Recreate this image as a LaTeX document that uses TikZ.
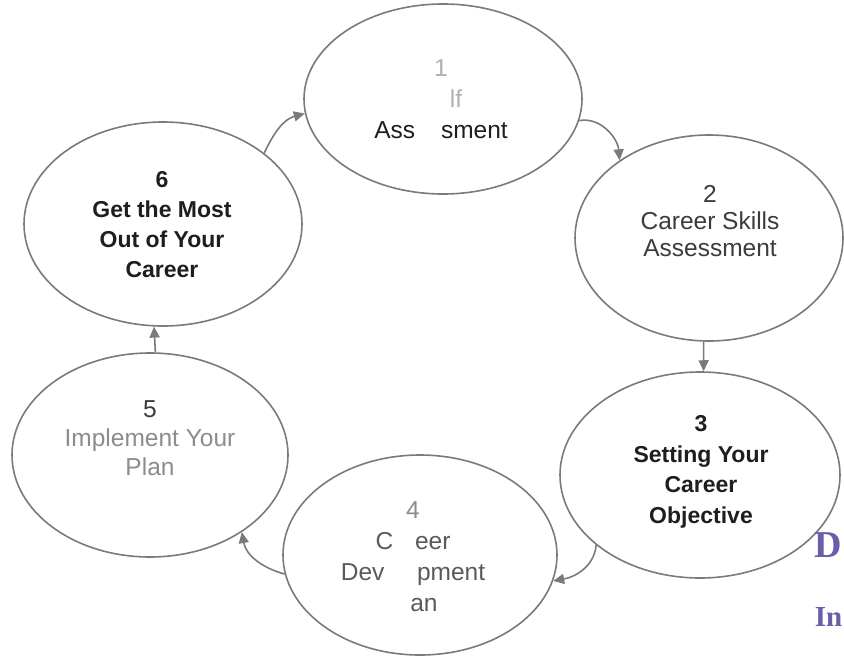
\documentclass[tikz,border=0pt]{standalone}
\usepackage{fontspec}
\setmainfont{Liberation Serif}
\setsansfont{Liberation Sans}
\usetikzlibrary{arrows.meta, shapes.geometric}
\definecolor{cline}{HTML}{7A7A7A}
\definecolor{cink}{HTML}{1E1E1E}
\definecolor{cdark}{HTML}{3C3C3C}
\definecolor{cmid}{HTML}{5A5A5A}
\definecolor{clight}{HTML}{8C8C8C}
\definecolor{cfaint}{HTML}{B0B0B0}
\definecolor{cpurple}{HTML}{6C5DAA}
\tikzset{
  every picture/.style={font=\sffamily, line width=0.8pt},
  phase/.style={ellipse, draw=cline, line width=0.8pt, inner sep=0pt},
  phasetext/.style={align=center, text=cdark, font=\sffamily\fontsize{12.25}{#1}\selectfont},
  phasetext/.default=15.5pt,
  boldtext/.style={align=center, text=cink, font=\sffamily\bfseries\fontsize{11.5}{#1}\selectfont},
  boldtext/.default=15.3pt,
  arrow/.style={-{Triangle[length=5.5pt, width=5pt]}, draw=cline, line width=0.8pt},
  pageedge/.style={text=cpurple, anchor=west, inner sep=0pt, font=\rmfamily\bfseries},
}

\begin{document}
\begin{tikzpicture}[x=0.5pt, y=0.5pt]
  \fill[white] (0,0) rectangle (844,661);
  \useasboundingbox (0,0) rectangle (844,661);
  % the six stages
  \node[phase, minimum width=139pt, minimum height=95pt] (e1) at (443,562) {};
  \node[phase, minimum width=134pt, minimum height=103pt] (e2) at (709,423) {};
  \node[phase, minimum width=140pt, minimum height=103pt] (e3) at (700,186) {};
  \node[phase, minimum width=137pt, minimum height=100pt] (e4) at (420,106) {};
  \node[phase, minimum width=138pt, minimum height=102pt] (e5) at (150,206) {};
  \node[phase, minimum width=139pt, minimum height=102pt] (e6) at (163,437) {};
  % texts
  \node[phasetext, text=cink] (t1) at (441,562) {\textcolor{cfaint}{1}\\ \textcolor{cfaint}{\phantom{Se}lf}\\ Ass\phantom{es}sment};
  \node[phasetext=13.5pt] (t2) at (710,440) {2\\ Career Skills\\ Assessment};
  \node[boldtext] (t3) at (701,189) {3\\ Setting Your\\ Career\\ Objective};
  \node[phasetext, text=cmid] (t4) at (413,104) {\textcolor{clight}{4}\\ C\phantom{ar}eer\\ Dev\phantom{elo}pment\\ \phantom{Pl}an};
  \node[phasetext=14.5pt, text=clight] (t5) at (150,223) {\textcolor{cdark}{5}\\ Implement Your\\ Plan};
  \node[boldtext=15pt] (t6) at (162,436) {6\\ Get the Most\\ Out of Your\\ Career};
  % cycle
  \draw[arrow] (e6.35) to[out=65, in=195] (e1.186);
  \draw[arrow] (e1.351) to[out=10, in=95] (e2.139);
  \draw[arrow] (e2.-93) -- (e3.88);
  \draw[arrow] (e3.214) to[out=-95, in=10] (e4.-11);
  \draw[arrow] (e4.188) to[out=165, in=-80] (e5.-40);
  \draw[arrow] (e5.87) -- (e6.-95);
  % next page edge
  \node[pageedge, font=\rmfamily\bfseries\fontsize{19}{19}\selectfont] (dcut) at (814,116) {D};
  \node[pageedge, font=\rmfamily\bfseries\fontsize{14.5}{14.5}\selectfont] (incut) at (814,44) {In};
\end{tikzpicture}
\end{document}
